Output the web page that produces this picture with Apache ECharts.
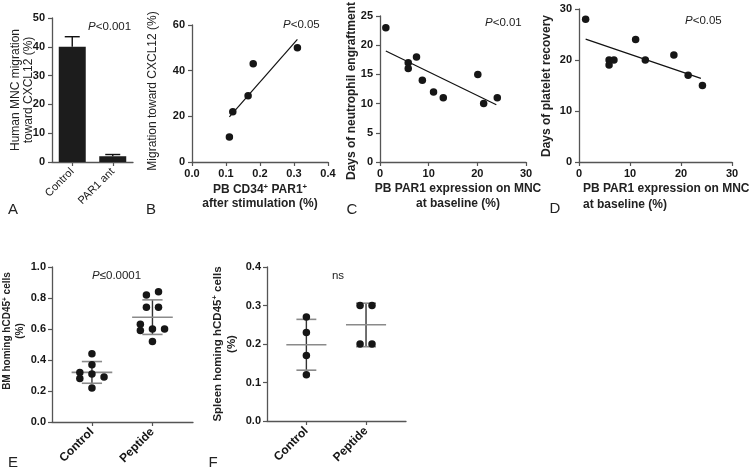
<!DOCTYPE html>
<html><head><meta charset="utf-8">
<script src="https://cdn.jsdelivr.net/npm/echarts@6/dist/echarts.min.js"></script>
<style>html,body{margin:0;padding:0;background:#fff}#c{width:750px;height:469px}</style>
</head><body><div id="c"></div>
<script>
// ---- Panel A ----
const aCategories = ['Control', 'PAR1 ant'];
const aValues = [40, 2];
const aErrTop = [43.5, 2.6];
// ---- Panel B ----
const bX = [0.11, 0.12, 0.165, 0.18, 0.31];
const bY = [11, 22, 29, 43, 50];
const bFitX = [0.11, 0.31];
const bFitY = [19.8, 53.7];
// ---- Panel C ----
const cX = [1.2, 5.8, 5.8, 7.5, 8.7, 11, 13, 20.1, 21.3, 24.1];
const cY = [23, 17, 16, 18, 14, 12, 11, 15, 10, 11];
const cFitX = [1.2, 23.9];
const cFitY = [19.0, 9.8];
// ---- Panel D ----
const dX = [1.3, 5.9, 5.9, 6.85, 11.1, 13.0, 18.6, 21.4, 24.2];
const dY = [28, 20, 19, 20, 24, 20, 21, 17, 15];
const dFitX = [1.3, 23.9];
const dFitY = [24.1, 16.4];
// ---- Panel E ----
const groupNames = ['Control', 'Peptide'];
const eControlX = [1.0, 1.0, 0.8, 1.0, 0.8, 1.2, 1.0];
const eControlY = [0.44, 0.37, 0.32, 0.31, 0.28, 0.29, 0.22];
const ePeptideX = [1.9, 2.1, 1.9, 2.1, 1.8, 1.8, 2.0, 2.2, 2.0];
const ePeptideY = [0.82, 0.84, 0.74, 0.74, 0.63, 0.59, 0.60, 0.60, 0.52];
const eMean = [0.32, 0.676];
const eSdLow = [0.25, 0.565];
const eSdHigh = [0.39, 0.788];
// ---- Panel F ----
const fControlX = [1, 1, 1, 1];
const fControlY = [0.27, 0.23, 0.17, 0.12];
const fPeptideX = [1.9, 2.1, 1.9, 2.1];
const fPeptideY = [0.30, 0.30, 0.20, 0.20];
const fMean = [0.198, 0.25];
const fSdLow = [0.132, 0.193];
const fSdHigh = [0.264, 0.306];

const FONT = "'Liberation Sans', Arial, sans-serif";
const AX = '#555';
const INK = '#161616';
const zip = (xs, ys) => xs.map((x, i) => [x, ys[i]]);

function axisBase(extra) {
  return Object.assign({
    axisLine: { show: true, lineStyle: { color: AX, width: 1.3 } },
    axisTick: { show: true, length: 4, lineStyle: { color: AX, width: 1.2 } },
    splitLine: { show: false },
    axisLabel: { fontFamily: FONT, fontSize: 11, fontWeight: 'bold', color: INK, margin: 6 }
  }, extra);
}
function valAxis(gi, min, max, interval, dec, labelMargin) {
  const a = axisBase({ type: 'value', gridIndex: gi, min: min, max: max, interval: interval });
  a.axisLabel.formatter = v => dec ? v.toFixed(dec) : String(v);
  if (labelMargin !== undefined) a.axisLabel.margin = labelMargin;
  return a;
}
function groupAxis(gi) {
  const a = axisBase({ type: 'value', gridIndex: gi, min: 0.34, max: 2.67 });
  a.axisTick.customValues = [1, 2];
  a.axisLabel.customValues = [1, 2];
  a.axisLabel.rotate = 45;
  a.axisLabel.fontSize = 12;
  a.axisLabel.margin = 8;
  a.axisLabel.formatter = v => groupNames[Math.round(v) - 1] || '';
  return a;
}

const xAxes = [];
const yAxes = [];
// A
const ax = axisBase({ type: 'category', gridIndex: 0, data: aCategories });
ax.axisTick.alignWithLabel = true;
ax.axisLabel.rotate = 45; ax.axisLabel.fontWeight = 'normal'; ax.axisLabel.margin = 8;
xAxes.push(ax);
yAxes.push(valAxis(0, 0, 50, 10, 0, 7));
// B
xAxes.push(valAxis(1, 0, 0.4, 0.1, 1, 6));
yAxes.push(valAxis(1, 0, 60, 20, 0, 7));
// C
xAxes.push(valAxis(2, 0, 30, 10, 0, 6));
yAxes.push(valAxis(2, 0, 25, 5, 0, 7));
// D
xAxes.push(valAxis(3, 0, 30, 10, 0, 6));
yAxes.push(valAxis(3, 0, 30, 10, 0, 7));
// E
xAxes.push(groupAxis(4));
yAxes.push(valAxis(4, 0, 1, 0.2, 1, 6));
// F
xAxes.push(groupAxis(5));
yAxes.push(valAxis(5, 0, 0.4, 0.1, 1, 6));

function scatter(i, data) {
  return { type: 'scatter', xAxisIndex: i, yAxisIndex: i, data: data, symbolSize: 7.5,
    itemStyle: { color: INK, opacity: 1 }, silent: true, z: 5 };
}
function fit(i, xs, ys) {
  return { type: 'line', xAxisIndex: i, yAxisIndex: i, data: zip(xs, ys), showSymbol: false,
    lineStyle: { color: '#111', width: 1.2 }, silent: true, z: 4 };
}
function meanSd(i, mean, lo, hi) {
  const data = mean.map((m, k) => [k + 1, m, lo[k], hi[k]]);
  return {
    type: 'custom', xAxisIndex: i, yAxisIndex: i, data: data, silent: true, z: 3,
    renderItem: function (params, api) {
      const x = api.value(0), m = api.value(1), l = api.value(2), h = api.value(3);
      const mL = api.coord([x - 0.336, m]), mR = api.coord([x + 0.336, m]);
      const hL = api.coord([x - 0.167, h]), hR = api.coord([x + 0.167, h]);
      const lL = api.coord([x - 0.167, l]), lR = api.coord([x + 0.167, l]);
      const c = api.coord([x, h]), d = api.coord([x, l]);
      const grey = { stroke: '#8a8a8a', lineWidth: 1.6 };
      return { type: 'group', children: [
        { type: 'line', shape: { x1: c[0], y1: c[1], x2: d[0], y2: d[1] }, style: { stroke: '#333', lineWidth: 1.4 } },
        { type: 'line', shape: { x1: mL[0], y1: mL[1], x2: mR[0], y2: mR[1] }, style: grey },
        { type: 'line', shape: { x1: hL[0], y1: hL[1], x2: hR[0], y2: hR[1] }, style: grey },
        { type: 'line', shape: { x1: lL[0], y1: lL[1], x2: lR[0], y2: lR[1] }, style: grey }
      ] };
    }
  };
}

const series = [
  { type: 'bar', xAxisIndex: 0, yAxisIndex: 0, data: aValues, barWidth: 27,
    itemStyle: { color: '#1c1c1c' }, silent: true },
  { type: 'custom', xAxisIndex: 0, yAxisIndex: 0, silent: true, z: 3,
    data: aValues.map((v, k) => [k, v, aErrTop[k]]),
    renderItem: function (params, api) {
      const p0 = api.coord([api.value(0), api.value(1)]);
      const p1 = api.coord([api.value(0), api.value(2)]);
      const st = { stroke: '#111', lineWidth: 1.4 };
      return { type: 'group', children: [
        { type: 'line', shape: { x1: p0[0], y1: p0[1], x2: p1[0], y2: p1[1] }, style: st },
        { type: 'line', shape: { x1: p1[0] - 7.5, y1: p1[1], x2: p1[0] + 7.5, y2: p1[1] }, style: st }
      ] };
    } },
  fit(1, bFitX, bFitY), scatter(1, zip(bX, bY)),
  fit(2, cFitX, cFitY), scatter(2, zip(cX, cY)),
  fit(3, dFitX, dFitY), scatter(3, zip(dX, dY)),
  meanSd(4, eMean, eSdLow, eSdHigh),
  scatter(4, zip(eControlX, eControlY)), scatter(4, zip(ePeptideX, ePeptideY)),
  meanSd(5, fMean, fSdLow, fSdHigh),
  scatter(5, zip(fControlX, fControlY)), scatter(5, zip(fPeptideX, fPeptideY))
];

function txt(x, y, text, opt) {
  opt = opt || {};
  return { type: 'text', x: x, y: y, rotation: opt.rot || 0, silent: true, z: 10,
    style: { text: text, fontFamily: FONT, fontSize: opt.size || 12, fontWeight: opt.weight || 'normal',
      fill: '#222', align: opt.align || 'center', verticalAlign: opt.va || 'middle',
      rich: opt.rich || undefined } };
}
const R = Math.PI / 2;
function pRich(size) {
  return { i: { fontStyle: 'italic', fontFamily: FONT, fontSize: size, fill: '#222' },
           n: { fontFamily: FONT, fontSize: size, fill: '#222' } };
}
function supRich(size, weight) {
  return { t: { fontFamily: FONT, fontSize: size, fontWeight: weight, fill: '#222' },
           s: { fontFamily: FONT, fontSize: size * 0.65, fontWeight: weight, fill: '#222', padding: [0, 0, size * 0.55, 0] } };
}

const graphic = [
  // panel letters
  txt(13, 210, 'A', { size: 15 }), txt(151, 210, 'B', { size: 15 }), txt(352, 210, 'C', { size: 15 }),
  txt(555, 209, 'D', { size: 15 }), txt(13, 463, 'E', { size: 15 }), txt(213, 463, 'F', { size: 15 }),
  // P values
  txt(88, 27, '{i|P}{n|<0.001}', { align: 'left', rich: pRich(11.5) }),
  txt(283, 25, '{i|P}{n|<0.05}', { align: 'left', rich: pRich(11.5) }),
  txt(485, 23, '{i|P}{n|<0.01}', { align: 'left', rich: pRich(11.5) }),
  txt(685, 21, '{i|P}{n|<0.05}', { align: 'left', rich: pRich(11.5) }),
  txt(92, 276, '{i|P}{n|≤0.0001}', { align: 'left', rich: pRich(11.5) }),
  txt(338, 276, 'ns', { size: 11.5 }),
  // y titles
  txt(16, 90, 'Human MNC migration', { rot: R, size: 12 }),
  txt(29, 90, 'toward CXCL12 (%)', { rot: R, size: 12 }),
  txt(153, 91, 'Migration toward CXCL12 (%)', { rot: R, size: 12 }),
  txt(352, 91, 'Days of neutrophil engraftment', { rot: R, size: 12, weight: 'bold' }),
  txt(547, 86, 'Days of platelet recovery', { rot: R, size: 12, weight: 'bold' }),
  txt(7.5, 331, '{t|BM homing hCD45}{s|+}{t| cells}', { rot: R, rich: supRich(10, 'bold') }),
  txt(20.5, 331, '(%)', { rot: R, size: 10, weight: 'bold' }),
  txt(218, 344, '{t|Spleen homing hCD45}{s|+}{t| cells}', { rot: R, rich: supRich(11.5, 'bold') }),
  txt(232, 344, '(%)', { rot: R, size: 11.5, weight: 'bold' }),
  // x titles
  txt(260, 190, '{t|PB CD34}{s|+}{t| PAR1}{s|+}', { rich: supRich(12, 'bold') }),
  txt(260, 203.5, 'after stimulation (%)', { size: 12, weight: 'bold' }),
  txt(458, 189, 'PB PAR1 expression on MNC', { size: 12, weight: 'bold' }),
  txt(458, 204, 'at baseline (%)', { size: 12, weight: 'bold' }),
  txt(583, 189, 'PB PAR1 expression on MNC', { align: 'left', size: 12, weight: 'bold' }),
  txt(583, 205, 'at baseline (%)', { align: 'left', size: 12, weight: 'bold' })
];

const chart = echarts.init(document.getElementById('c'), null, { renderer: 'canvas' });
chart.setOption({
  animation: false,
  backgroundColor: '#fff',
  grid: [
    { left: 52, top: 18, width: 81, height: 144 },
    { left: 192, top: 25, width: 136, height: 137 },
    { left: 380, top: 16, width: 146, height: 146 },
    { left: 579, top: 9, width: 153, height: 153 },
    { left: 52, top: 267, width: 141, height: 155 },
    { left: 267, top: 267, width: 139, height: 154 }
  ],
  xAxis: xAxes,
  yAxis: yAxes,
  series: series,
  graphic: graphic
});
</script></body></html>
